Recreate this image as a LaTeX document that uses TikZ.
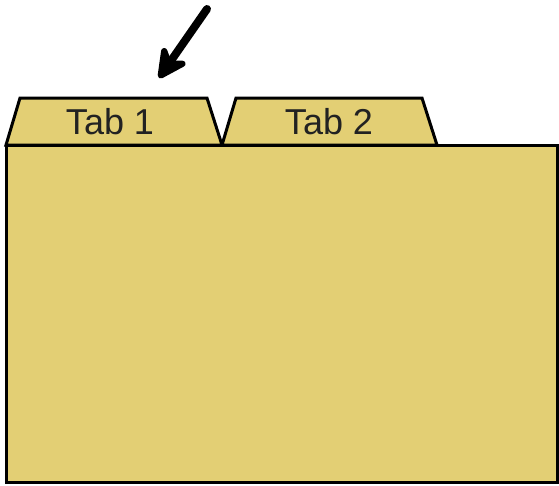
\documentclass[tikz,border=0pt]{standalone}
\usepackage{fontspec}
\setmainfont{Liberation Sans}
\usetikzlibrary{arrows.meta}
\definecolor{folder}{HTML}{E3CF74}
\definecolor{labeltext}{HTML}{222222}
\begin{document}
\begin{tikzpicture}[x=1pt,y=-1pt,
  folderpart/.style={draw=black,fill=folder,line width=3pt,line join=miter},
  tablabel/.style={text=labeltext,font=\fontsize{36}{42}\selectfont,inner sep=0pt,anchor=center},
  pointer/.style={line width=8pt,line cap=round,-{Stealth[length=38pt,width=38pt,inset=13pt,round]}}]
\useasboundingbox (0,0) rectangle (559,485);
% tabs
\draw[folderpart] (6,145) -- (20,98) -- (207,98) -- (222,145) -- cycle;
\draw[folderpart] (222,145) -- (236,98) -- (422,98) -- (437,145) -- cycle;
% body
\draw[folderpart] (6,145) rectangle (557,482);
\node[tablabel] (tab1) at (110,122) {Tab 1};
\node[tablabel] (tab2) at (329,122) {Tab 2};
\coordinate (arrowstart) at (207,9);
\coordinate (arrowend) at (159,78);
\draw[pointer] (arrowstart) -- (arrowend);
\end{tikzpicture}
\end{document}
